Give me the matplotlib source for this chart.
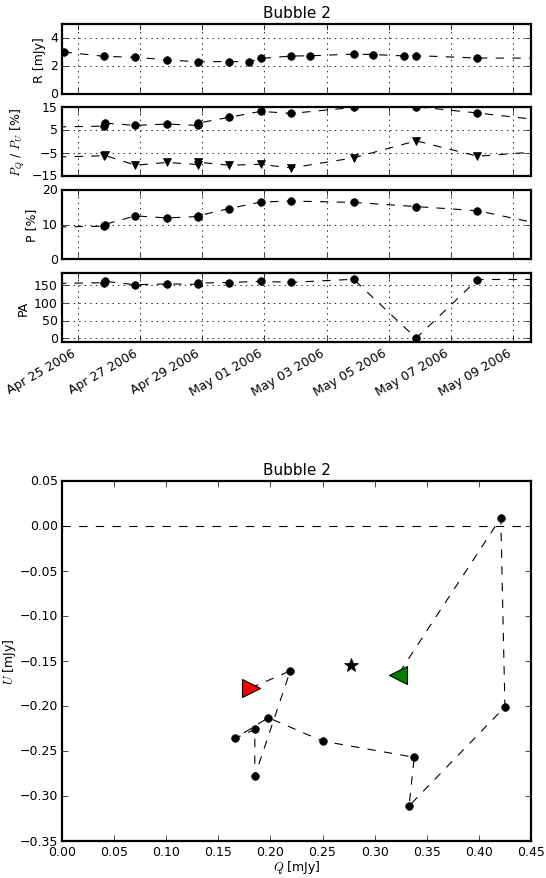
import matplotlib
matplotlib.use('Agg')
import matplotlib.pyplot as plt
import matplotlib.dates as mdates
import matplotlib.ticker as mticker
import pandas as pd

plt.style.use('classic')
plt.rcParams.update({
    'font.family': 'DejaVu Sans',
    'font.size': 9,
    'mathtext.fontset': 'cm',
    'axes.linewidth': 1.6,
    'xtick.major.size': 4,
    'ytick.major.size': 4,
    'xtick.minor.size': 0,
    'ytick.minor.size': 0,
    'xtick.major.pad': 3,
    'ytick.major.pad': 3,
    'figure.facecolor': 'white',
    'savefig.facecolor': 'white',
})

# ---------------- data ----------------
title = "Bubble 2"

# total intensity
r_dates = ['2006-04-24 13:12', '2006-04-25 20:38', '2006-04-26 20:38', '2006-04-27 20:53',
           '2006-04-28 20:53', '2006-04-29 20:38', '2006-04-30 12:00', '2006-04-30 21:07',
           '2006-05-01 20:38', '2006-05-02 11:31', '2006-05-03 20:53', '2006-05-04 11:31',
           '2006-05-05 12:00', '2006-05-05 21:07', '2006-05-07 20:24', '2006-05-09 22:48']
r_vals = [3.00, 2.69, 2.62, 2.44, 2.30, 2.32, 2.29, 2.54, 2.71, 2.73, 2.85, 2.82, 2.72, 2.74, 2.57, 2.56]

# polarisation epochs
pol_dates = ['2006-04-23 20:00', '2006-04-25 20:30', '2006-04-25 20:50', '2006-04-26 20:38',
             '2006-04-27 20:53', '2006-04-28 20:30', '2006-04-28 20:50', '2006-04-29 20:38',
             '2006-04-30 21:07', '2006-05-01 20:38', '2006-05-03 20:53', '2006-05-05 21:07',
             '2006-05-07 20:24', '2006-05-09 22:48']
pq_vals = [6.2, 6.7, 8.0, 7.0, 7.6, 7.0, 8.0, 10.5, 13.1, 12.2, 14.8, 15.1, 12.4, 9.2]
pu_vals = [-6.9, -6.2, -6.0, -10.3, -9.1, -10.0, -9.0, -10.3, -9.9, -11.5, -7.1, 0.3, -6.4, -4.3]
p_vals = [9.2, 9.5, 10.0, 12.5, 11.9, 12.3, 12.5, 14.6, 16.5, 16.8, 16.4, 15.2, 14.0, 10.0]
pa_vals = [155.0, 157.5, 161.5, 151.8, 154.2, 152.9, 156.6, 158.1, 161.4, 158.5, 167.3, 0.6, 166.5, 167.0]

xlim_dates = ['2006-04-24 12:00', '2006-05-09 13:40']
tick_dates = ['2006-04-25', '2006-04-27', '2006-04-29', '2006-05-01',
              '2006-05-03', '2006-05-05', '2006-05-07', '2006-05-09']

# Q-U plane
q_vals = [0.181, 0.219, 0.185, 0.185, 0.166, 0.198, 0.250, 0.338, 0.333, 0.425, 0.421, 0.322]
u_vals = [-0.180, -0.161, -0.278, -0.226, -0.236, -0.213, -0.239, -0.257, -0.311, -0.201, 0.009, -0.166]
star_q, star_u = 0.277, -0.154

# ---------------- figure ----------------
W, H = 546, 879
fig = plt.figure(figsize=(W / 100, H / 100), dpi=100)


def ax_px(left, top, right, bottom):
    return fig.add_axes([left / W, 1 - bottom / H, (right - left) / W, (bottom - top) / H])


rd = pd.to_datetime(r_dates)
pd_ = pd.to_datetime(pol_dates)
xl = pd.to_datetime(xlim_dates)
tk = pd.to_datetime(tick_dates)

L, R = 62, 531
ax1 = ax_px(L, 25, R, 95)
ax2 = ax_px(L, 108, R, 177)
ax3 = ax_px(L, 191, R, 260)
ax4 = ax_px(L, 274, R, 343)

ms = 5.5
ax1.plot(rd, r_vals, 'k--', marker='o', ms=ms, mfc='k', mec='k', lw=0.8)
ax1.set_ylim(0, 5)
ax1.set_yticks([0, 2, 4])
ax1.set_ylabel('R [mJy]')
ax1.set_title(title, fontsize=11)

ax2.plot(pd_, pq_vals, 'k--', marker='o', ms=ms, mfc='k', mec='k', lw=0.8)
ax2.plot(pd_, pu_vals, 'k--', marker='v', ms=ms, mfc='k', mec='k', lw=0.8)
ax2.set_ylim(-15, 15)
ax2.set_yticks([-15, -5, 5, 15])
ax2.set_ylabel(r'$P_Q$ / $P_U$ [%]')

ax3.plot(pd_, p_vals, 'k--', marker='o', ms=ms, mfc='k', mec='k', lw=0.8)
ax3.set_ylim(0, 20)
ax3.set_yticks([0, 10, 20])
ax3.set_ylabel('P [%]')

ax4.plot(pd_, pa_vals, 'k--', marker='o', ms=ms, mfc='k', mec='k', lw=0.8)
ax4.set_ylim(-10, 185)
ax4.set_yticks([0, 50, 100, 150])
ax4.set_ylabel('PA')

for ax in (ax1, ax2, ax3, ax4):
    ax.set_xlim(xl[0], xl[1])
    ax.xaxis.set_major_locator(mticker.FixedLocator(mdates.date2num(tk)))
    ax.xaxis.set_major_formatter(mdates.DateFormatter('%b %d %Y'))
    ax.grid(True, color='k', linestyle=':', linewidth=0.6)
    ax.tick_params(labelsize=9)
    ax.yaxis.labelpad = 3
for ax in (ax1, ax2, ax3):
    ax.tick_params(labelbottom=False)
for lab in ax4.get_xticklabels():
    lab.set_rotation(30)
    lab.set_ha('right')

# Q-U plane
ax5 = ax_px(L, 482, R, 842)
ax5.plot(q_vals, u_vals, 'k--', lw=0.8)
ax5.plot(q_vals[1:-1], u_vals[1:-1], 'o', color='k', ms=ms, mec='k')
ax5.plot([q_vals[0]], [u_vals[0]], '>', color='red', ms=13, mec='k', mew=0.8)
ax5.plot([q_vals[-1]], [u_vals[-1]], '<', color='green', ms=13, mec='k', mew=0.8)
ax5.plot([star_q], [star_u], '*', color='k', ms=10, mec='k')
ax5.axhline(0, color='k', ls='--', lw=0.8)
ax5.set_xlim(0, 0.45)
ax5.set_ylim(-0.35, 0.05)
ax5.xaxis.set_major_locator(mticker.MultipleLocator(0.05))
ax5.yaxis.set_major_locator(mticker.MultipleLocator(0.05))
ax5.xaxis.set_major_formatter(mticker.FormatStrFormatter('%.2f'))
ax5.yaxis.set_major_formatter(mticker.FuncFormatter(
    lambda v, p: ('%.2f' % v).replace('-', '\u2212') if abs(v) > 1e-9 else '0.00'))
ax5.set_xlabel(r'$Q$ [mJy]', labelpad=0)
ax5.set_ylabel(r'$U$ [mJy]', labelpad=1)
ax5.set_title(title, fontsize=11)
ax5.tick_params(labelsize=9)

fig.savefig('out.png', dpi=100)
